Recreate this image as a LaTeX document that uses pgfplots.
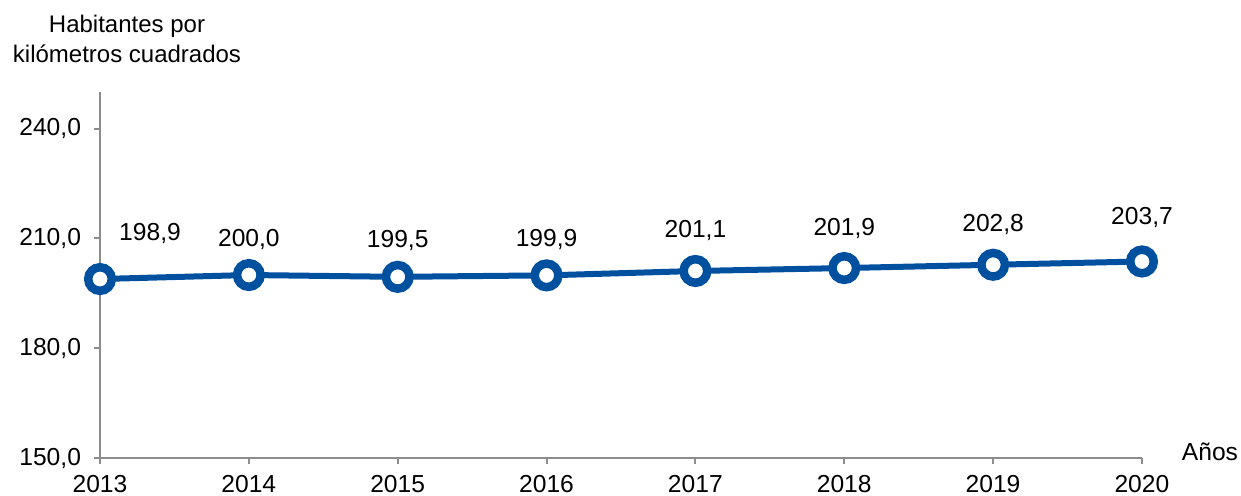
\documentclass[border=0pt]{standalone}
\usepackage{pgfplots}
\pgfplotsset{compat=1.18}
\usepackage{fontspec}
\setmainfont{Liberation Sans}
\definecolor{lineblue}{HTML}{0050A0}
\definecolor{axgray}{HTML}{8C8C8C}
\begin{document}
\begin{tikzpicture}
\useasboundingbox (-50pt,-18.5pt) rectangle (570.5pt,229pt);
\begin{axis}[
  at={(0,0)}, anchor=south west,
  scale only axis, width=521pt, height=183pt,
  xmin=2013, xmax=2020, ymin=150, ymax=250,
  axis x line=bottom, axis y line=left,
  axis line style={-, axgray, line width=1pt},
  xtick={2013,...,2020}, ytick={150,180,210,240},
  tick style={axgray, line width=1pt},
  tick align=outside, major tick length=3pt,
  /pgf/number format/assume math mode=true,
  xticklabel style={/pgf/number format/1000 sep=, font=\fontsize{12.3}{14}\selectfont, yshift=-2pt},
  yticklabel style={/pgf/number format/.cd, fixed, fixed zerofill, precision=1, use comma, /tikz/.cd, font=\fontsize{12.3}{14}\selectfont, xshift=-3pt},
  clip=false,
  nodes near coords={\pgfplotspointmeta},
  point meta=explicit symbolic,
  visualization depends on={\thisrow{dx}\as\dx},
  visualization depends on={\thisrow{dy}\as\dy},
  every node near coord/.append style={anchor=center, xshift=\dx pt, yshift=\dy pt, font=\fontsize{12.3}{14}\selectfont, text=black},
]
\addplot[lineblue, line width=3pt, mark=*, mark size=5.9pt,
  mark options={fill=white, draw=lineblue, line width=4.25pt}]
  table[meta=lab] {
x y lab dx dy
2013 198.9 198,9 25 23
2014 200.0 200,0 0 18
2015 199.5 199,5 0 18
2016 199.9 199,9 0 18
2017 201.1 201,1 0 20
2018 201.9 201,9 0 20
2019 202.8 202,8 0 20
2020 203.7 203,7 0 22
};
\end{axis}
\node[align=center, font=\fontsize{12}{15}\selectfont] at (13.5pt,209.5pt) {Habitantes por\\kilómetros cuadrados};
\node[font=\fontsize{12.3}{14}\selectfont] at (555pt,3pt) {Años};
\end{tikzpicture}
\end{document}
